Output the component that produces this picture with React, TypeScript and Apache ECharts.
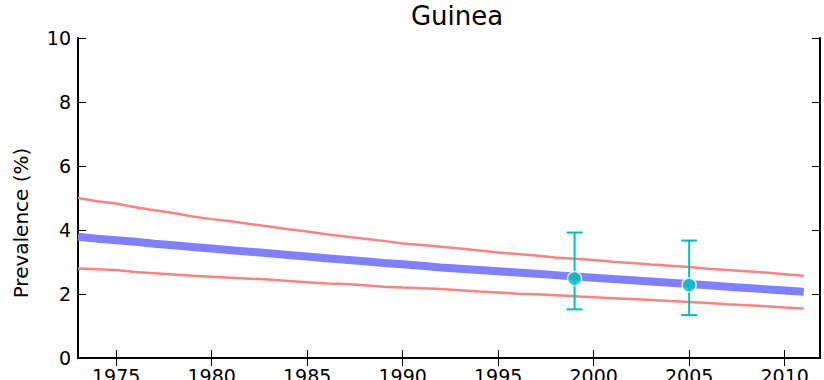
import React, { useEffect, useRef } from "react";
import * as echarts from "echarts";

const years = [1973, 1974, 1975, 1976, 1977, 1978, 1979, 1980, 1981, 1982, 1983, 1984, 1985, 1986, 1987, 1988, 1989, 1990, 1991, 1992, 1993, 1994, 1995, 1996, 1997, 1998, 1999, 2000, 2001, 2002, 2003, 2004, 2005, 2006, 2007, 2008, 2009, 2010, 2011];

const upper = [5.0, 4.9, 4.83, 4.71, 4.62, 4.53, 4.42, 4.34, 4.27, 4.19, 4.11, 4.02, 3.95, 3.87, 3.8, 3.73, 3.66, 3.58, 3.53, 3.48, 3.42, 3.36, 3.3, 3.25, 3.2, 3.14, 3.1, 3.06, 3.01, 2.97, 2.92, 2.88, 2.84, 2.79, 2.75, 2.71, 2.67, 2.62, 2.57];

const middle = [3.79, 3.73, 3.68, 3.63, 3.57, 3.52, 3.47, 3.42, 3.37, 3.32, 3.27, 3.22, 3.17, 3.12, 3.07, 3.02, 2.97, 2.93, 2.88, 2.83, 2.79, 2.75, 2.71, 2.67, 2.63, 2.59, 2.55, 2.51, 2.47, 2.43, 2.39, 2.35, 2.31, 2.27, 2.23, 2.19, 2.15, 2.11, 2.07];

const lower = [2.8, 2.77, 2.75, 2.69, 2.65, 2.61, 2.57, 2.54, 2.51, 2.48, 2.45, 2.41, 2.37, 2.33, 2.31, 2.27, 2.23, 2.2, 2.18, 2.16, 2.12, 2.08, 2.05, 2.01, 1.99, 1.96, 1.93, 1.9, 1.87, 1.84, 1.81, 1.78, 1.75, 1.72, 1.68, 1.65, 1.62, 1.58, 1.55];

const obsYears = [1999, 2005];
const obsValues = [2.48, 2.28];
const obsLow = [1.52, 1.34];
const obsHigh = [3.92, 3.67];

const xTicks = [1975, 1980, 1985, 1990, 1995, 2000, 2005, 2010];

const FONT = "DejaVu Sans";

export default function App() {
  const ref = useRef<HTMLDivElement>(null);
  useEffect(() => {
    if (!ref.current) return;
    const chart = echarts.init(ref.current, undefined, { renderer: "svg" });
    const zip = (ys: number[]) => years.map((y, i) => [y, ys[i]]);
    const axisLine = { show: true, lineStyle: { color: "#000", width: 2 } };
    const tick = { show: true, inside: true, length: 8, lineStyle: { color: "#000", width: 1 } };
    chart.setOption({
      animation: false,
      title: {
        text: "Guinea",
        left: 452,
        textAlign: "center",
        top: -2,
        textStyle: { fontFamily: FONT, fontSize: 26, fontWeight: "normal", color: "#000" },
      },
      graphic: [
        {
          type: "text",
          x: 21,
          y: 223,
          rotation: Math.PI / 2,
          style: {
            text: "Prevalence (%)",
            fontFamily: FONT,
            fontSize: 20,
            fill: "#000",
            textAlign: "center",
            textVerticalAlign: "middle",
          },
        },
      ],
      grid: { left: 78, right: 4, top: 38, bottom: 22, containLabel: false, outerBoundsMode: "none" },
      xAxis: [
        {
          type: "value",
          min: 1973,
          max: 2011.85,
          position: "bottom",
          axisLine,
          axisTick: { ...tick, customValues: xTicks },
          axisLabel: {
            customValues: xTicks,
            formatter: (v: number) => String(v),
            fontFamily: FONT,
            fontSize: 19,
            color: "#000",
            margin: 8,
          },
          splitLine: { show: false },
        },
        {
          type: "value",
          min: 1973,
          max: 2011.85,
          position: "top",
          axisLine,
          axisTick: { ...tick, customValues: xTicks },
          axisLabel: { show: false },
          splitLine: { show: false },
        },
      ],
      yAxis: [
        {
          type: "value",
          min: 0,
          max: 10,
          interval: 2,
          position: "left",
          axisLine,
          axisTick: tick,
          axisLabel: { fontFamily: FONT, fontSize: 19, color: "#000", margin: 7 },
          splitLine: { show: false },
        },
        {
          type: "value",
          min: 0,
          max: 10,
          interval: 2,
          position: "right",
          axisLine,
          axisTick: tick,
          axisLabel: { show: false },
          splitLine: { show: false },
        },
      ],
      series: [
        {
          type: "line",
          data: zip(upper),
          showSymbol: false,
          lineStyle: { color: "#ff8080", width: 2.5 },
          z: 2,
        },
        {
          type: "line",
          data: zip(lower),
          showSymbol: false,
          lineStyle: { color: "#ff8080", width: 2.5 },
          z: 2,
        },
        {
          type: "line",
          data: zip(middle),
          showSymbol: false,
          lineStyle: { color: "#8080ff", width: 8 },
          z: 3,
        },
        {
          type: "custom",
          data: obsYears.map((y, i) => [y, obsLow[i], obsHigh[i]]),
          z: 4,
          renderItem: (params: any, api: any) => {
            const lo = api.coord([api.value(0), api.value(1)]);
            const hi = api.coord([api.value(0), api.value(2)]);
            const hw = 8;
            const style = { stroke: "#00bfbf", lineWidth: 2, fill: "none" };
            return {
              type: "group",
              children: [
                { type: "line", shape: { x1: lo[0], y1: lo[1], x2: hi[0], y2: hi[1] }, style },
                { type: "line", shape: { x1: lo[0] - hw, y1: lo[1], x2: lo[0] + hw, y2: lo[1] }, style },
                { type: "line", shape: { x1: hi[0] - hw, y1: hi[1], x2: hi[0] + hw, y2: hi[1] }, style },
              ],
            };
          },
        },
        {
          type: "scatter",
          data: obsYears.map((y, i) => [y, obsValues[i]]),
          symbolSize: 14,
          itemStyle: { color: "#00bfbf", borderColor: "#fff", borderWidth: 1.5 },
          z: 5,
        },
      ],
    });
    return () => chart.dispose();
  }, []);
  return (
    <div
      ref={ref}
      style={{ position: "absolute", left: 0, top: 0, width: 824, height: 380 }}
    />
  );
}
